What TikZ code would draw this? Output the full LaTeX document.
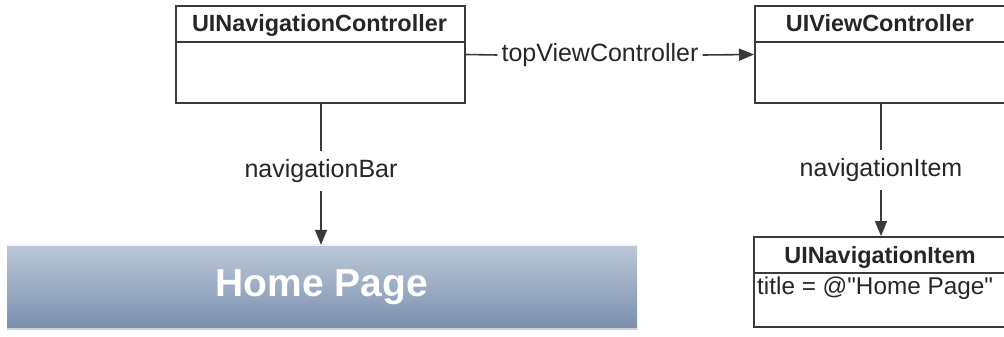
\documentclass[tikz,border=0pt]{standalone}
\usepackage{fontspec}
\setmainfont{Liberation Sans}
\newfontfamily\rawsans{Liberation Sans}[Ligatures=TeXOff]
\usetikzlibrary{arrows.meta}
\definecolor{linec}{HTML}{3A3A3A}
\definecolor{bartop}{HTML}{BCC8D8}
\definecolor{barbot}{HTML}{7A8FAD}
\tikzset{
  umlbox/.style={draw=linec, line width=2pt, fill=white, inner sep=0pt},
  hdr/.style={font=\fontsize{23.4}{26}\selectfont\bfseries, text=black!85, inner sep=0pt, anchor=base},
  lbl/.style={font=\fontsize{25}{28}\selectfont, text=black!85, fill=white, inner xsep=4pt, inner ysep=8pt},
  conn/.style={draw=linec, line width=1.6pt},
  arr/.style={conn, -{Triangle[length=15pt,width=12pt]}}
}
\begin{document}
\begin{tikzpicture}[x=1pt,y=-1pt]
\useasboundingbox (0,0) rectangle (1004,337);
\clip (0,0) rectangle (1004,337);
\fill[white] (0,0) rectangle (1004,337);

% UINavigationController
\node[umlbox, minimum width=289pt, minimum height=97pt] (nc) at (320.5,54.5) {};
\draw[linec, line width=2pt] (nc.west |- 0,42) -- (nc.east |- 0,42);
\node[hdr] (nch) at (319.5,32) {UINavigationController};

% UIViewController (right edge lies beyond the picture)
\node[umlbox, minimum width=285pt, minimum height=97pt] (vc) at (897.5,54.5) {};
\draw[linec, line width=2pt] (vc.west |- 0,42) -- (vc.east |- 0,42);
\node[hdr] (vch) at (880,32) {UIViewController};

% UINavigationItem
\node[umlbox, minimum width=286pt, minimum height=90pt] (ni) at (897,282) {};
\draw[linec, line width=2pt] (ni.west |- 0,273) -- (ni.east |- 0,273);
\node[hdr] (nih) at (880,263) {UINavigationItem};
\node[font=\rawsans\fontsize{24.3}{28}\selectfont, text=black!85, inner sep=0pt, anchor=base west] (nit) at (757,294) {title = @"Home Page"};

% Home Page bar
\node[minimum width=630pt, minimum height=84pt, inner sep=0pt, top color=bartop, bottom color=barbot,
      font=\fontsize{39}{44}\selectfont\bfseries, text=white] (bar) at (322,287) {Home Page};
\draw[white!80!bartop, line width=1.5pt] (bar.north west) -- (bar.north east);
\draw[white!60!barbot, line width=1.5pt] (bar.south west) -- (bar.south east);

% topViewController
\node[lbl, inner ysep=2pt] (tvc) at (600,55) {topViewController};
\draw[conn] (nc.east) -- (tvc.west);
\draw[arr] (tvc.east) -- (vc.west);

% navigationBar
\node[lbl] (nb) at (321,171) {navigationBar};
\draw[conn] (nc.south -| 321,0) -- (nb.north);
\draw[arr] (nb.south) -- (bar.north -| 321,0);

% navigationItem
\node[lbl] (nvi) at (881,170) {navigationItem};
\draw[conn] (vc.south -| 881,0) -- (nvi.north);
\draw[arr] (nvi.south) -- (ni.north -| 881,0);
\end{tikzpicture}
\end{document}
